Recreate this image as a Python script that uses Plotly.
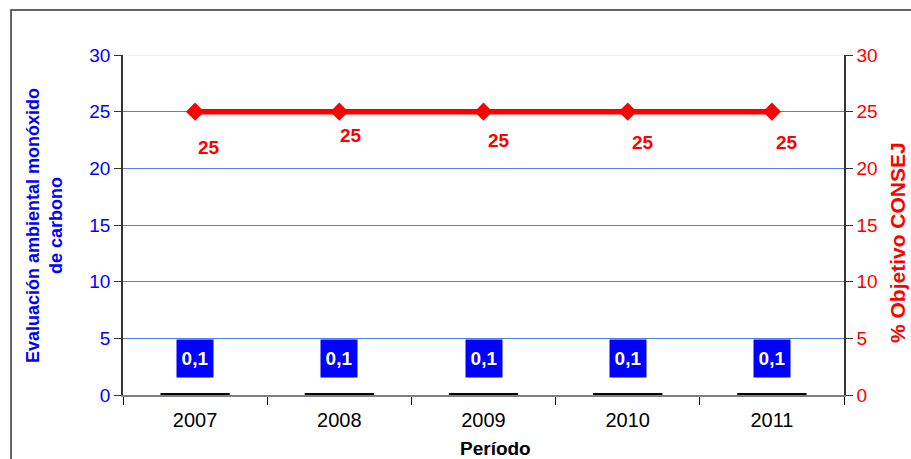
import plotly.graph_objects as go

# Data
periodos = ["2007", "2008", "2009", "2010", "2011"]
evaluacion = [0.1, 0.1, 0.1, 0.1, 0.1]
objetivo = [25, 25, 25, 25, 25]
y_ticks = [0, 5, 10, 15, 20, 25, 30]

# Label offsets (pixels) for the objective labels
obj_dx = [14, 12, 15, 15, 15]
obj_dy = [-36, -24, -29, -31, -31]

FONT = "Liberation Sans, Arial, sans-serif"
BLUE = "#0000FF"
RED = "#FF0000"
GRID = "#4f7ff5"

fig = go.Figure()

fig.add_trace(go.Bar(
    x=periodos, y=evaluacion, yaxis="y",
    marker=dict(color="black", line=dict(color="black", width=1.5)),
    width=0.47, showlegend=False, hoverinfo="x+y",
))

fig.add_trace(go.Scatter(
    x=periodos, y=objetivo, yaxis="y2", mode="lines+markers",
    line=dict(color=RED, width=5.5),
    marker=dict(symbol="diamond", size=14, color=RED),
    showlegend=False,
))

annotations = []
# Value labels for the bars: white on a blue box
for i, v in enumerate(evaluacion):
    annotations.append(dict(
        x=i, y=v, xref="x", yref="y", yshift=35,
        text="<b>" + f"{v:.1f}".replace(".", ",") + "</b>",
        showarrow=False, font=dict(family=FONT, size=19, color="white"),
        bgcolor=BLUE, width=28, height=29, borderpad=4,
    ))
# Value labels for the objective line
for i, (v, dx, dy) in enumerate(zip(objetivo, obj_dx, obj_dy)):
    annotations.append(dict(
        x=i, y=v, xref="x", yref="y2", xshift=dx, yshift=dy,
        text=f"<b>{v}</b>", showarrow=False,
        font=dict(family=FONT, size=19, color=RED),
    ))
# Axis titles
annotations.append(dict(
    x=-0.1096, y=0.5, xref="paper", yref="paper",
    xanchor="center", yanchor="middle",
    text="<b>Evaluación ambiental monóxido<br>de carbono</b>",
    textangle=-90, showarrow=False, align="center",
    font=dict(family=FONT, size=18, color=BLUE),
))
annotations.append(dict(
    x=1.0735, y=0.45, xref="paper", yref="paper",
    xanchor="center", yanchor="middle",
    text="<b>% Objetivo CONSEJ</b>",
    textangle=-90, showarrow=False,
    font=dict(family=FONT, size=21, color=RED),
))
annotations.append(dict(
    x=0.517, y=-0.156, xref="paper", yref="paper",
    xanchor="center", yanchor="middle",
    text="<b>Período</b>", showarrow=False,
    font=dict(family=FONT, size=19, color="black"),
))

shapes = [
    # light top gridline
    dict(type="line", xref="paper", yref="y", x0=0, x1=1, y0=30, y1=30,
         line=dict(color="#e6eafa", width=1.5), layer="above"),
    # outer frame
    dict(type="rect", xref="paper", yref="paper",
         x0=-0.1553, x1=1.12, y0=-0.25, y1=1.1324,
         line=dict(color="#333333", width=1.5), layer="below"),
]

fig.update_layout(
    width=911, height=459,
    margin=dict(l=123, r=67, t=55, b=64),
    paper_bgcolor="white", plot_bgcolor="white",
    font=dict(family=FONT),
    annotations=annotations,
    shapes=shapes,
    xaxis=dict(
        type="category", categoryorder="array", categoryarray=periodos,
        range=[-0.5, len(periodos) - 0.5], autorange=False,
        tickson="boundaries",
        ticks="outside", ticklen=8, tickcolor="black", tickwidth=1,
        ticklabelstandoff=6,
        showline=True, linecolor="#808080", linewidth=2,
        showgrid=False, zeroline=False, tickangle=0,
        tickfont=dict(family=FONT, size=20, color="black"),
    ),
    yaxis=dict(
        range=[0, 30], autorange=False, tickvals=y_ticks,
        ticks="outside", ticklen=7, tickcolor="#333333",
        showline=True, linecolor="#333333", linewidth=1.5,
        showgrid=True, gridcolor=GRID, gridwidth=1, zeroline=False,
        tickfont=dict(family=FONT, size=19, color=BLUE),
    ),
    yaxis2=dict(
        range=[0, 30], autorange=False, tickvals=y_ticks,
        overlaying="y", side="right",
        ticks="outside", ticklen=7, tickcolor="#333333",
        showline=True, linecolor="#333333", linewidth=1.5,
        showgrid=False, zeroline=False,
        tickfont=dict(family=FONT, size=19, color=RED),
    ),
)

fig.write_html("out.html")
